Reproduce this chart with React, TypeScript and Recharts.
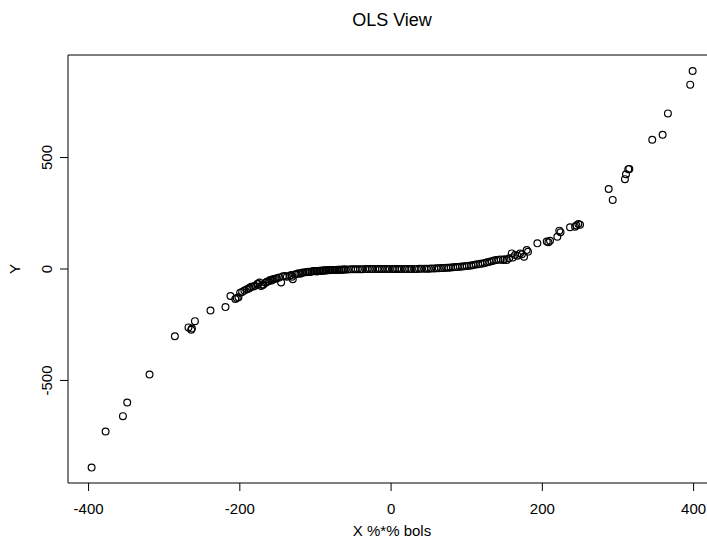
import React from "react";
import {
  ScatterChart,
  Scatter,
  XAxis,
  YAxis,
  ReferenceArea,
  Customized,
} from "recharts";

// Points (X %*% bols, Y)
const xValues: number[] = [
  -396, -377.5, -354.6, -348.9, -319.4, -285.9, -267.9, -264.3, -263.4, -259.4,
  -238.8, -219, -212.4, -206, -201.8, -204,
  -199.6, -197, -194, -190.7, -188, -187, -185, -182, -180, -177, -176, -174,
  -171.8, -170, -168.7, -166, -164.3, -162, -160, -158, -157, -155, -153, -151,
  -148, -145.4, -143, -140, -137.8, -134, -132, -131, -130, -127, -125, -122.5,
  -120, -118, -116, -113, -111, -109, -107, -105, -103, -101, -99, -97, -95,
  -93, -91, -89, -87, -85, -83, -80, -78, -75, -72, -69, -66, -63,
  -98, -94, -90, -86, -82, -77, -74, -71, -68, -65, -62,
  -60, -53, -47, -41, -34, -28, -21, -15, -8, -2, 5, 11, 18, 24, 31, 37, 44,
  50, 57, 63, 70, 76,
  -57, -50, -44, -38, -31, -25, -18, -12, -5, 2, 8, 14, 21, 27, 34, 40, 47,
  53, 60, 66, 73,
  79, 82, 85, 88, 91, 94, 97, 100, 103, 106, 109, 112, 115, 118, 121, 124, 127,
  130, 133, 136, 139, 142, 145, 148, 150, 152.9, 156, 159.5, 161, 163.9, 167,
  170.5, 173, 175.8, 179.3, 181, 193.4, 205.8, 208, 210.1, 219.8, 222.4, 224,
  236.6, 243.2, 245, 247.6, 249.8,
  287.7, 293, 309.2, 310.6, 313.6, 315, 345.3, 359, 366, 395.5, 398.7,
];

const yValues: number[] = [
  -891, -729, -660, -599, -473, -302, -262, -273, -267, -234,
  -186, -171, -121, -135, -127, -130,
  -106, -103, -97, -91, -88, -84, -80, -78, -75, -68, -66, -61,
  -76, -72, -69, -62, -57, -55, -49, -52, -47, -45, -44, -42,
  -38, -60, -33, -31, -35, -30, -27, -35, -46, -25, -22, -19,
  -21, -17, -16, -15, -13, -12, -13, -11, -9, -10, -9, -9, -8,
  -8, -7, -7, -6, -6, -5, -5, -4, -4, -4, -3, -3, -2,
  -11, -9, -8, -7, -6, -5, -4, -3, -3, -3, -2,
  -2, -1.5, -1, -0.8, -0.4, -0.2, -0.1, 0, 0, 0, 0, 0, 0.1, 0.2, 0.4, 0.6, 1,
  1.5, 2.5, 3.5, 4.5, 6,
  -2, -1, -1, -0.6, -0.3, -0.2, 0, 0, 0, 0, 0, 0, 0.1, 0.3, 0.5, 0.8, 1.2,
  2, 3, 4, 5.5,
  6.5, 8, 8.5, 9, 10.5, 11, 12.5, 14, 15, 16, 18, 20, 21, 24, 25, 27, 30,
  32, 35, 38, 40, 41, 43, 40, 44, 40, 48, 70, 52, 63, 60,
  70, 66, 55, 85, 77, 115, 123, 120, 127, 145, 172, 165,
  187, 190, 195, 202, 198,
  359, 310, 403, 425, 448, 449, 580, 602, 698, 827, 888,
];

const xTicks: number[] = [-400, -200, 0, 200, 400];
const yTicks: number[] = [-500, 0, 500];

const titleText = "OLS View";
const xLabelText = "X %*% bols";
const yLabelText = "Y";

const data = xValues.map((x, i) => ({ x, y: yValues[i] }));

const FONT = "'Liberation Sans', Arial, Helvetica, sans-serif";

const X_DOMAIN: [number, number] = [-427.2, 429.6];
const Y_DOMAIN: [number, number] = [-960, 960];

const RingShape = (props: any) => {
  const { cx, cy } = props;
  if (cx == null || cy == null) return null;
  return (
    <circle cx={cx} cy={cy} r={3.4} fill="none" stroke="#000" strokeWidth={1.2} />
  );
};

const YTick = (props: any) => {
  const { x, y, payload } = props;
  return (
    <text
      transform={`translate(${x},${y}) rotate(-90)`}
      textAnchor="middle"
      fontSize={15}
      fontFamily={FONT}
      fill="#000"
    >
      {payload.value}
    </text>
  );
};

const Labels = () => (
  <g fontFamily={FONT} fill="#000">
    <text x={392} y={25.5} textAnchor="middle" fontSize={18}>
      {titleText}
    </text>
    <text x={392} y={535.5} textAnchor="middle" fontSize={15}>
      {xLabelText}
    </text>
    <text
      transform="translate(19.5,269) rotate(-90)"
      textAnchor="middle"
      fontSize={15}
    >
      {yLabelText}
    </text>
  </g>
);

export default function App() {
  return (
    <div
      style={{
        position: "absolute",
        left: 0,
        top: 0,
        width: 707,
        height: 548,
        overflow: "hidden",
        background: "#fff",
      }}
    >
      <ScatterChart
        width={730}
        height={548}
        margin={{ top: 55, right: 14, bottom: 0, left: 0 }}
      >
        <XAxis
          type="number"
          dataKey="x"
          domain={X_DOMAIN}
          ticks={xTicks}
          allowDataOverflow
          axisLine={false}
          tickLine={{ stroke: "#000" }}
          tickSize={8}
          tickMargin={12}
          height={65}
          tick={{ fontSize: 15, fontFamily: FONT, fill: "#000" }}
          interval={0}
        />
        <YAxis
          type="number"
          dataKey="y"
          domain={Y_DOMAIN}
          ticks={yTicks}
          allowDataOverflow
          axisLine={false}
          tickLine={{ stroke: "#000" }}
          tickSize={8}
          tickMargin={7.7}
          width={68}
          tick={<YTick />}
          interval={0}
        />
        <ReferenceArea
          x1={X_DOMAIN[0]}
          x2={X_DOMAIN[1]}
          y1={Y_DOMAIN[0]}
          y2={Y_DOMAIN[1]}
          fill="none"
          fillOpacity={0}
          stroke="#000"
          strokeWidth={1}
          ifOverflow="extendDomain"
        />
        <Scatter
          data={data}
          shape={<RingShape />}
          isAnimationActive={false}
        />
        <Customized component={<Labels />} />
      </ScatterChart>
    </div>
  );
}
